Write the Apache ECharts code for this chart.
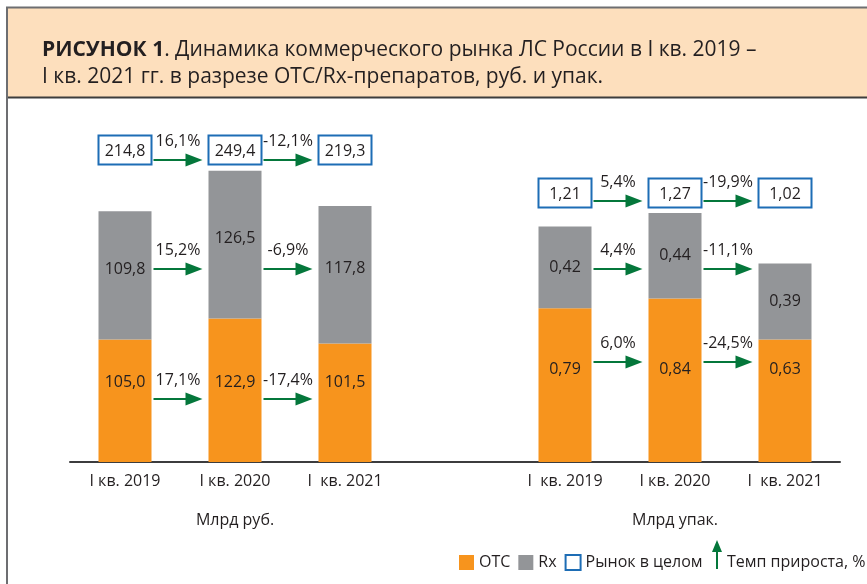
<!DOCTYPE html>
<html>
<head>
<meta charset="utf-8">
<script src="https://cdn.jsdelivr.net/npm/echarts@6/dist/echarts.min.js"></script>
<style>
  html, body { margin: 0; padding: 0; background: #fff; }
  #chart { width: 867px; height: 584px; }
</style>
</head>
<body>
<div id="chart"></div>
<script>
// data
const quartersRub = ['I кв. 2019', 'I кв. 2020', 'I  кв. 2021'];
const quartersPacks = ['I  кв. 2019', 'I кв. 2020', 'I  кв. 2021'];

const otcRub = [105.0, 122.9, 101.5];
const rxRub = [109.8, 126.5, 117.8];
const totalRub = [214.8, 249.4, 219.3];
const growthTotalRub = [16.1, -12.1];
const growthRxRub = [15.2, -6.9];
const growthOtcRub = [17.1, -17.4];

const otcPacks = [0.79, 0.84, 0.63];
const rxPacks = [0.42, 0.44, 0.39];
const totalPacks = [1.21, 1.27, 1.02];
const growthTotalPacks = [5.4, -19.9];
const growthRxPacks = [4.4, -11.1];
const growthOtcPacks = [6.0, -24.5];

const ORANGE = '#f7941d';
const GRAY = '#939598';
const BLUE = '#1d6db5';
const GREEN = '#04773b';
const TEXT = '#231f20';
const FONT = '"Open Sans", "Noto Sans", sans-serif';
const BAR_W = 53;

function fmt(v, digits) {
  return v.toFixed(digits).replace('.', ',');
}

// box with the whole market value, lifted a fixed distance above the axis
function boxRenderer(digits, lift) {
  return function (params, api) {
    const base = api.coord([api.value(0), 0]);
    const cx = base[0];
    const cy = base[1] - lift;
    const h = 29;
    return {
      type: 'group',
      children: [
        {
          type: 'rect',
          shape: { x: cx - BAR_W / 2, y: cy - h / 2, width: BAR_W, height: h },
          style: { fill: '#fff', stroke: BLUE, lineWidth: 2 }
        },
        {
          type: 'text',
          style: {
            x: cx, y: cy + 1, text: fmt(api.value(1), digits),
            align: 'center', verticalAlign: 'middle',
            fontSize: 16, fontFamily: FONT, fill: TEXT
          }
        }
      ]
    };
  };
}

// growth arrow between bar i and bar i+1
function arrowRenderer(lift) {
  return function (params, api) {
    const i = api.value(0);
    const a = api.coord([i, 0]);
    const b = api.coord([i + 1, 0]);
    const y = a[1] - lift;
    const x0 = a[0] + BAR_W / 2 + 2;
    const x1 = b[0] - BAR_W / 2 - 6;
    return {
      type: 'group',
      children: [
        {
          type: 'line',
          shape: { x1: x0, y1: y, x2: x1 - 14, y2: y },
          style: { stroke: GREEN, lineWidth: 2 }
        },
        {
          type: 'polygon',
          shape: { points: [[x1 - 17, y - 6.5], [x1, y], [x1 - 17, y + 6.5]] },
          style: { fill: GREEN }
        },
        {
          type: 'text',
          style: {
            x: (x0 + x1) / 2, y: y - 19, text: fmt(api.value(1), 1) + '%',
            align: 'center', verticalAlign: 'middle',
            fontSize: 16, fontFamily: FONT, fill: TEXT
          }
        }
      ]
    };
  };
}

function pairs(arr) {
  return arr.map((v, i) => [i, v]);
}

function panelSeries(idx, otc, rx, total, gTotal, gRx, gOtc, digits, lifts) {
  const common = { xAxisIndex: idx, yAxisIndex: idx };
  const labelBase = { show: true, fontSize: 16, fontFamily: FONT, color: TEXT };
  return [
    Object.assign({
      name: 'OTC', type: 'bar', stack: 's' + idx, barWidth: BAR_W, data: otc,
      itemStyle: { color: ORANGE },
      label: Object.assign({}, labelBase, {
        position: 'insideBottom', distance: lifts.otcLabel,
        formatter: p => fmt(p.value, digits)
      })
    }, common),
    Object.assign({
      name: 'Rx', type: 'bar', stack: 's' + idx, barWidth: BAR_W, data: rx,
      itemStyle: { color: GRAY },
      label: Object.assign({}, labelBase, {
        position: 'inside', offset: [0, lifts.rxOffset],
        formatter: p => fmt(p.value, digits)
      })
    }, common),
    Object.assign({
      name: 'Рынок в целом', type: 'custom', data: pairs(total),
      itemStyle: { color: BLUE },
      renderItem: boxRenderer(digits, lifts.box), z: 5
    }, common),
    Object.assign({
      name: 'Темп прироста, %', type: 'custom', data: pairs(gTotal),
      itemStyle: { color: GREEN },
      renderItem: arrowRenderer(lifts.totalArrow), z: 5
    }, common),
    Object.assign({
      name: 'Темп прироста, %', type: 'custom', data: pairs(gRx),
      itemStyle: { color: GREEN },
      renderItem: arrowRenderer(lifts.rxArrow), z: 5
    }, common),
    Object.assign({
      name: 'Темп прироста, %', type: 'custom', data: pairs(gOtc),
      itemStyle: { color: GREEN },
      renderItem: arrowRenderer(lifts.otcArrow), z: 5
    }, common)
  ];
}

function xAxisFor(idx, cats, name) {
  return {
    type: 'category', gridIndex: idx, data: cats,
    axisLine: { lineStyle: { color: '#3c3c3e', width: 2 } },
    axisTick: { show: false },
    axisLabel: { fontSize: 16, fontFamily: FONT, color: TEXT, margin: 11 },
    name: name, nameLocation: 'middle', nameGap: 50,
    nameTextStyle: { fontSize: 16, fontFamily: FONT, color: TEXT }
  };
}

const chart = echarts.init(document.getElementById('chart'));

const option = {
  animation: false,
  title: {
    text: '{b|РИСУНОК 1}. Динамика коммерческого рынка ЛС России в I кв. 2019 –\nI кв. 2021 гг. в разрезе OTC/Rx-препаратов, руб. и упак.',
    left: 37, top: 32,
    textStyle: {
      fontFamily: FONT,
      fontSize: 21, fontWeight: 'normal', lineHeight: 27, color: TEXT,
      rich: {
        b: {
          fontFamily: FONT,
          fontSize: 21, fontWeight: 'bold', lineHeight: 27, color: TEXT
        }
      }
    }
  },
  graphic: [
    { type: 'rect', z: -1, shape: { x: 7, y: 8, width: 860, height: 89 }, style: { fill: '#fddfbd' } },
    { type: 'line', shape: { x1: 6, y1: 7.5, x2: 867, y2: 7.5 }, style: { stroke: '#6d6e71', lineWidth: 2 } },
    { type: 'line', shape: { x1: 6, y1: 97.5, x2: 867, y2: 97.5 }, style: { stroke: '#3d3d3d', lineWidth: 2 } },
    { type: 'line', shape: { x1: 7, y1: 7, x2: 7, y2: 584 }, style: { stroke: '#6d6e71', lineWidth: 2 } },
    { type: 'line', shape: { x1: 399, y1: 462, x2: 511, y2: 462 }, style: { stroke: '#3c3c3e', lineWidth: 2 } }
  ],
  legend: [
    {
      left: 454, top: 549, itemWidth: 15, itemHeight: 15, itemGap: 8,
      icon: 'rect', selectedMode: false,
      textStyle: { fontSize: 16, fontFamily: FONT, color: TEXT },
      data: [
        'OTC', 'Rx',
        { name: 'Рынок в целом', itemStyle: { color: '#fff', borderColor: BLUE, borderWidth: 2 } }
      ]
    },
    {
      left: 707, top: 535, itemWidth: 10, itemHeight: 29, selectedMode: false,
      formatter: name => '{t|' + name + '}',
      textStyle: {
        fontSize: 16, fontFamily: FONT, color: TEXT,
        rich: { t: { fontSize: 16, fontFamily: FONT, color: TEXT, padding: [16, 0, 0, 0] } }
      },
      data: [
        { name: 'Темп прироста, %', icon: 'path://M5,0 L10,12 L6,12 L6,29 L4,29 L4,12 L0,12 Z', itemStyle: { color: GREEN } }
      ]
    }
  ],
  grid: [
    { left: 70, width: 330, top: 100, bottom: 122 },
    { left: 510, width: 330, top: 100, bottom: 122 }
  ],
  xAxis: [
    xAxisFor(0, quartersRub, 'Млрд руб.'),
    xAxisFor(1, quartersPacks, 'Млрд упак.')
  ],
  yAxis: [
    { type: 'value', gridIndex: 0, min: 0, max: 310, show: false },
    { type: 'value', gridIndex: 1, min: 0, max: 1.86, show: false }
  ],
  series: [].concat(
    panelSeries(0, otcRub, rxRub, totalRub, growthTotalRub, growthRxRub, growthOtcRub, 1,
      { box: 312, totalArrow: 302, rxArrow: 193, otcArrow: 63, otcLabel: 72, rxOffset: -6 }),
    panelSeries(1, otcPacks, rxPacks, totalPacks, growthTotalPacks, growthRxPacks, growthOtcPacks, 2,
      { box: 269, totalArrow: 261, rxArrow: 193, otcArrow: 100, otcLabel: 85, rxOffset: 0 })
  )
};

chart.setOption(option);
</script>
</body>
</html>
